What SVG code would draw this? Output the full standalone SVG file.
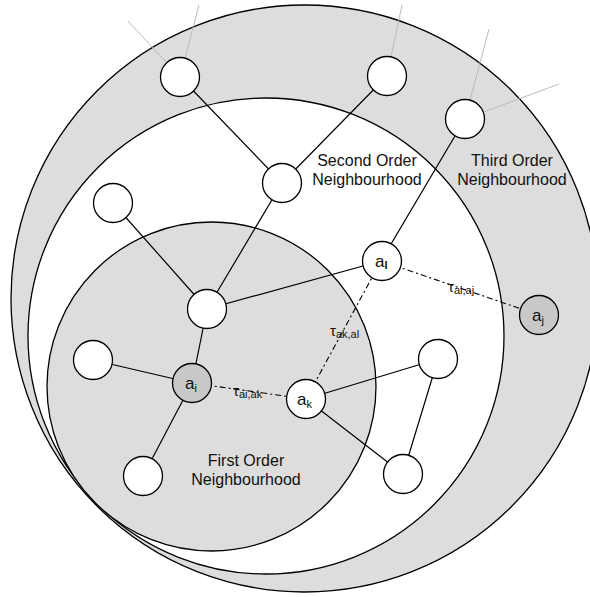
<svg xmlns="http://www.w3.org/2000/svg" width="590" height="597" viewBox="0 0 590 597">
<style>
.region{stroke:#000;stroke-width:1.3}
.edge{stroke:#000;stroke-width:1.2;fill:none}
.ext{stroke:#b4b4b4;stroke-width:0.9;fill:none}
.dash{stroke:#000;stroke-width:1.1;fill:none;stroke-dasharray:6,3,2,3}
.node{fill:#fff;stroke:#000;stroke-width:1.3}
.hl{fill:#c8c8c8;stroke:#000;stroke-width:1.3}
.t{font-family:"Liberation Sans",Arial,sans-serif;fill:#111}
.big{font-size:16px}
.nl{font-size:17px}
.sub{font-size:11px}
.tau{font-size:15px}
</style>
<rect width="590" height="597" fill="#fff"/>
<g id="regions">
<circle id="third-order" class="region" cx="304.5" cy="298.5" r="293.5" fill="#dcdddc"/>
<circle id="second-order" class="region" cx="266" cy="336" r="238" fill="#fff"/>
<circle id="first-order" class="region" cx="211.5" cy="386.5" r="164.5" fill="#dcdddc"/>
</g>
<g id="connectors">
<line class="ext" x1="180" y1="77" x2="128" y2="21"/>
<line class="ext" x1="180" y1="77" x2="199" y2="5"/>
<line class="ext" x1="387" y1="76" x2="402" y2="5"/>
<line class="ext" x1="465" y1="119" x2="489" y2="29"/>
<line class="ext" x1="465" y1="119" x2="559" y2="84"/>
<line class="edge" x1="180" y1="77" x2="282" y2="183"/>
<line class="edge" x1="387" y1="76" x2="282" y2="183"/>
<line class="edge" x1="282" y1="183" x2="207" y2="309"/>
<line class="edge" x1="113" y1="203" x2="207" y2="309"/>
<line class="edge" x1="207" y1="309" x2="192" y2="383"/>
<line class="edge" x1="207" y1="309" x2="381" y2="261"/>
<line class="edge" x1="465" y1="119" x2="381" y2="261"/>
<line class="edge" x1="93" y1="360" x2="192" y2="383"/>
<line class="edge" x1="143" y1="476" x2="192" y2="383"/>
<line class="edge" x1="306" y1="399" x2="438" y2="359"/>
<line class="edge" x1="306" y1="399" x2="403" y2="474"/>
<line class="edge" x1="438" y1="359" x2="403" y2="474"/>
<line class="dash" x1="192" y1="383" x2="306" y2="399"/>
<line class="dash" x1="306" y1="399" x2="381" y2="261"/>
<line class="dash" x1="381" y1="261" x2="539" y2="315"/>
<text class="t tau" x="233" y="396">τ<tspan class="sub" dy="2">ai,ak</tspan></text>
<text class="t tau" x="330" y="336">τ<tspan class="sub" dy="2">ak,al</tspan></text>
<text class="t tau" x="448" y="292">τ<tspan class="sub" dy="2">al,aj</tspan></text>
</g>
<g id="n1"><circle class="node" cx="180" cy="77" r="19.5"/></g>
<g id="n2"><circle class="node" cx="282" cy="183" r="19.5"/></g>
<g id="n3"><circle class="node" cx="113" cy="203" r="19.5"/></g>
<g id="n4"><circle class="node" cx="207" cy="309" r="19.5"/></g>
<g id="n5"><circle class="node" cx="387" cy="76" r="19.5"/></g>
<g id="n6"><circle class="node" cx="465" cy="119" r="19.5"/></g>
<g id="n7"><circle class="node" cx="93" cy="360" r="19.5"/></g>
<g id="n8"><circle class="node" cx="143" cy="476" r="19.5"/></g>
<g id="n9"><circle class="node" cx="438" cy="359" r="19.5"/></g>
<g id="n10"><circle class="node" cx="403" cy="474" r="19.5"/></g>
<g id="ai"><circle class="hl" cx="192" cy="383" r="19.5"/><text class="t nl" x="185" y="389">a<tspan class="sub" dy="3">i</tspan></text></g>
<g id="ak"><circle class="node" cx="306" cy="399" r="19.5"/><text class="t nl" x="297" y="405">a<tspan class="sub" dy="3">k</tspan></text></g>
<g id="al"><circle class="node" cx="382" cy="261" r="19.5"/><text class="t nl" x="375" y="267">a<tspan class="sub" dy="2" font-weight="bold">l</tspan></text></g>
<g id="aj"><circle class="hl" cx="539" cy="315" r="19.5"/><text class="t nl" x="532" y="321">a<tspan class="sub" dy="3">j</tspan></text></g>
<g id="labels">
<text class="t big" text-anchor="middle" x="367" y="166">Second Order</text>
<text class="t big" text-anchor="middle" x="367" y="185">Neighbourhood</text>
<text class="t big" text-anchor="middle" x="512" y="166">Third Order</text>
<text class="t big" text-anchor="middle" x="512" y="185">Neighbourhood</text>
<text class="t big" text-anchor="middle" x="246" y="466">First Order</text>
<text class="t big" text-anchor="middle" x="246" y="485">Neighbourhood</text>
</g>
</svg>
